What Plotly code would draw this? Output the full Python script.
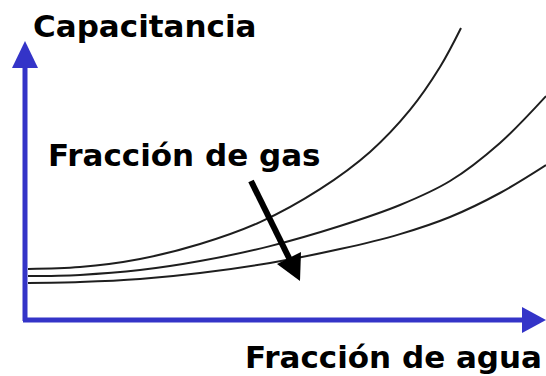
import plotly.graph_objects as go

# Capacitance response vs. water fraction for three gas fractions
# (gas fraction increases from the top curve to the bottom one)
water_fraction_low_gas = [0.006, 0.11, 0.23, 0.35, 0.47, 0.59, 0.69, 0.77, 0.83, 0.872]
capacitance_low_gas = [0.167, 0.173, 0.200, 0.250, 0.323, 0.433, 0.557, 0.697, 0.840, 0.970]

water_fraction_mid_gas = [0.006, 0.11, 0.23, 0.35, 0.49, 0.63, 0.75, 0.85, 0.95, 1.042]
capacitance_mid_gas = [0.143, 0.147, 0.163, 0.193, 0.243, 0.310, 0.380, 0.460, 0.587, 0.743]

water_fraction_high_gas = [0.006, 0.11, 0.23, 0.35, 0.49, 0.63, 0.75, 0.85, 0.95, 1.042]
capacitance_high_gas = [0.120, 0.123, 0.133, 0.153, 0.187, 0.233, 0.283, 0.340, 0.420, 0.513]

y_title = "Capacitancia"
x_title = "Fracción de agua"
trend_label = "Fracción de gas"

W, H = 546, 376
AXIS_BLUE = "#3434C8"
CURVE = "#1e1e1e"
FONT = "DejaVu Sans"


def px(x):
    return x / W


def py(y):
    return 1 - y / H


fig = go.Figure()
for xs, ys in [
    (water_fraction_low_gas, capacitance_low_gas),
    (water_fraction_mid_gas, capacitance_mid_gas),
    (water_fraction_high_gas, capacitance_high_gas),
]:
    fig.add_trace(go.Scatter(
        x=xs, y=ys, mode="lines",
        line=dict(color=CURVE, width=2, shape="spline", smoothing=1.0),
        hoverinfo="skip", showlegend=False,
    ))

shapes = []
# vertical axis with arrow head
shapes.append(dict(type="line", xref="paper", yref="paper",
                   x0=px(25), y0=py(321), x1=px(25), y1=py(66),
                   line=dict(color=AXIS_BLUE, width=5)))
shapes.append(dict(type="path", xref="paper", yref="paper",
                   path=f"M {px(12)} {py(68)} L {px(38)} {py(68)} L {px(25)} {py(41)} Z",
                   fillcolor=AXIS_BLUE, line=dict(color=AXIS_BLUE, width=0)))
# horizontal axis with arrow head
shapes.append(dict(type="line", xref="paper", yref="paper",
                   x0=px(23), y0=py(320), x1=px(524), y1=py(320),
                   line=dict(color=AXIS_BLUE, width=5)))
shapes.append(dict(type="path", xref="paper", yref="paper",
                   path=f"M {px(522)} {py(307)} L {px(522)} {py(333)} L {px(546)} {py(320)} Z",
                   fillcolor=AXIS_BLUE, line=dict(color=AXIS_BLUE, width=0)))
# black arrow pointing toward increasing gas fraction
shapes.append(dict(type="line", xref="paper", yref="paper",
                   x0=px(251), y0=py(181), x1=px(290), y1=py(260),
                   line=dict(color="black", width=6)))
shapes.append(dict(type="path", xref="paper", yref="paper",
                   path=f"M {px(277)} {py(264)} L {px(301)} {py(252)} L {px(300)} {py(281)} Z",
                   fillcolor="black", line=dict(color="black", width=0)))

annotations = [
    dict(text=f"<b>{y_title}</b>", xref="paper", yref="paper",
         x=px(31), y=py(26), xanchor="left", yanchor="middle",
         showarrow=False, font=dict(family=FONT, size=31, color="black")),
    dict(text=f"<b>{trend_label}</b>", xref="paper", yref="paper",
         x=px(46), y=py(155), xanchor="left", yanchor="middle",
         showarrow=False, font=dict(family=FONT, size=31, color="black")),
    dict(text=f"<b>{x_title}</b>", xref="paper", yref="paper",
         x=px(243), y=py(357), xanchor="left", yanchor="middle",
         showarrow=False, font=dict(family=FONT, size=31, color="black")),
]

fig.update_layout(
    width=W, height=H,
    margin=dict(l=0, r=0, t=0, b=0),
    paper_bgcolor="white", plot_bgcolor="white",
    xaxis=dict(range=[-25 / 500, 521 / 500], visible=False, fixedrange=True),
    yaxis=dict(range=[-57 / 300, 319 / 300], visible=False, fixedrange=True),
    shapes=shapes, annotations=annotations,
)

fig.write_html("out.html", config={"displayModeBar": False})
